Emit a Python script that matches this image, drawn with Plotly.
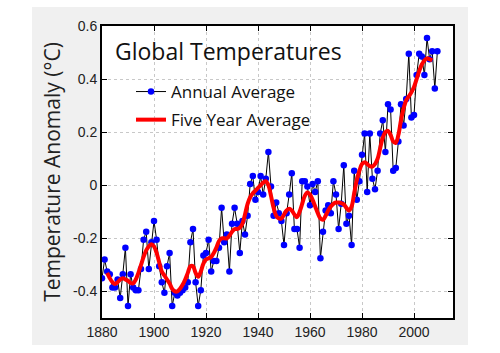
import plotly.graph_objects as go

years = list(range(1880, 2010))
annual = [
    -0.35, -0.28, -0.325, -0.335, -0.385, -0.385, -0.355, -0.425, -0.335, -0.235,
    -0.455, -0.335, -0.385, -0.395, -0.395, -0.315, -0.205, -0.175, -0.315, -0.215,
    -0.135, -0.205, -0.305, -0.365, -0.405, -0.305, -0.255, -0.455, -0.405, -0.415,
    -0.405, -0.395, -0.385, -0.365, -0.215, -0.165, -0.365, -0.455, -0.395, -0.265,
    -0.255, -0.205, -0.325, -0.285, -0.285, -0.235, -0.085, -0.215, -0.185, -0.325,
    -0.145, -0.085, -0.145, -0.255, -0.135, -0.185, -0.115, 0.005, 0.035, -0.055,
    -0.025, 0.035, -0.035, 0.025, 0.125, -0.005, -0.115, -0.065, -0.105, -0.135,
    -0.225, -0.105, -0.035, 0.045, -0.165, -0.165, -0.235, 0.015, 0.015, -0.005,
    -0.075, 0.005, -0.025, 0.015, -0.275, -0.175, -0.095, -0.075, -0.105, 0.015,
    -0.035, -0.165, -0.07, 0.075, -0.145, -0.115, -0.225, 0.055, -0.055, 0.015,
    0.115, 0.195, -0.025, 0.195, 0.025, -0.015, 0.055, 0.195, 0.245, 0.125,
    0.305, 0.285, 0.055, 0.065, 0.165, 0.305, 0.225, 0.325, 0.495, 0.255,
    0.265, 0.415, 0.495, 0.485, 0.415, 0.555, 0.475, 0.505, 0.365, 0.505,
]

five_years = list(range(1882, 2008))
five_year = [
    -0.33, -0.35, -0.365, -0.372, -0.365, -0.355, -0.35, -0.355,
    -0.36, -0.368, -0.37, -0.355, -0.33, -0.30, -0.27, -0.245, -0.23, -0.222,
    -0.23, -0.255, -0.29, -0.325, -0.34, -0.355, -0.37, -0.39, -0.40, -0.40,
    -0.39, -0.375, -0.355, -0.33, -0.305, -0.305, -0.33, -0.345, -0.325, -0.295,
    -0.28, -0.275, -0.27, -0.255, -0.235, -0.21, -0.20, -0.20, -0.20, -0.19,
    -0.175, -0.165, -0.165, -0.16, -0.145, -0.11, -0.07, -0.045, -0.03, -0.02,
    -0.01, 0.0, 0.01, 0.015, 0.0, -0.04, -0.085, -0.115, -0.125, -0.125,
    -0.11, -0.095, -0.088, -0.095, -0.11, -0.12, -0.10, -0.07, -0.04, -0.027,
    -0.035, -0.055, -0.08, -0.105, -0.125, -0.13, -0.115, -0.095, -0.08, -0.07,
    -0.065, -0.065, -0.067, -0.072, -0.085, -0.095, -0.08, -0.03, 0.02, 0.055,
    0.08, 0.087, 0.08, 0.072, 0.07, 0.08, 0.10, 0.14, 0.18, 0.20,
    0.205, 0.19, 0.165, 0.16, 0.19, 0.245, 0.29, 0.32, 0.335, 0.35,
    0.37, 0.40, 0.43, 0.455, 0.47, 0.478, 0.475, 0.47,
]

x_ticks = [1880, 1900, 1920, 1940, 1960, 1980, 2000]
y_ticks = [-0.4, -0.2, 0, 0.2, 0.4, 0.6]
y_tick_text = ["-0.4", "-0.2", "0", "0.2", "0.4", "0.6"]

fig = go.Figure()
fig.add_trace(go.Scatter(
    x=years, y=annual, mode="lines+markers", name="Annual Average",
    legendgroup="annual",
    line=dict(color="black", width=1),
    marker=dict(color="#0000ff", size=6.5, line=dict(width=0)),
))
fig.add_trace(go.Scatter(
    x=five_years, y=five_year, mode="lines", name="Five Year Average",
    legendgroup="five",
    line=dict(color="#ff0000", width=4, shape="spline", smoothing=1),
))

L, R, T, B = 102, 47, 26, 35
pw, ph = 500 - L - R, 353 - T - B

def px_x(p):
    return (p - L) / pw

def px_y(p):
    return (353 - B - p) / ph

fig.add_shape(type="rect", xref="paper", yref="paper",
              x0=px_x(32), x1=px_x(468), y0=px_y(345), y1=px_y(7),
              fillcolor="#f0f0f0", line=dict(width=0), layer="below")
fig.add_shape(type="rect", xref="paper", yref="paper",
              x0=0, x1=1, y0=0, y1=1,
              fillcolor="white", line=dict(width=0), layer="below")

fig.add_annotation(text="Global Temperatures", xref="paper", yref="paper",
                   x=px_x(113), y=px_y(51), xanchor="left", yanchor="middle",
                   showarrow=False, font=dict(family="Open Sans", size=23, color="#111"))

axis_common = dict(
    showline=True, linecolor="black", linewidth=2, mirror="ticks",
    ticks="inside", ticklen=5, tickcolor="black", tickwidth=1,
    showgrid=True, gridcolor="#c8c8c8", griddash="dot", gridwidth=1,
    zeroline=False, tickfont=dict(family="Arial", size=14, color="#222"),
)

fig.update_xaxes(range=[1880, 2015], tickvals=x_ticks, **axis_common)
fig.update_yaxes(range=[-0.5, 0.6], tickvals=y_ticks, ticktext=y_tick_text,
                 title=dict(text="Temperature Anomaly (°C)", standoff=7,
                            font=dict(family="Open Sans", size=21, color="#222")),
                 **axis_common)

fig.update_layout(
    width=500, height=353,
    margin=dict(l=L, r=R, t=T, b=B),
    paper_bgcolor="white", plot_bgcolor="white",
    showlegend=True,
    legend=dict(x=px_x(131), y=px_y(74), xanchor="left", yanchor="top",
                bgcolor="rgba(0,0,0,0)", borderwidth=0, tracegroupgap=3,
                font=dict(family="Open Sans", size=17, color="#111")),
)

fig.write_html("out.html")
